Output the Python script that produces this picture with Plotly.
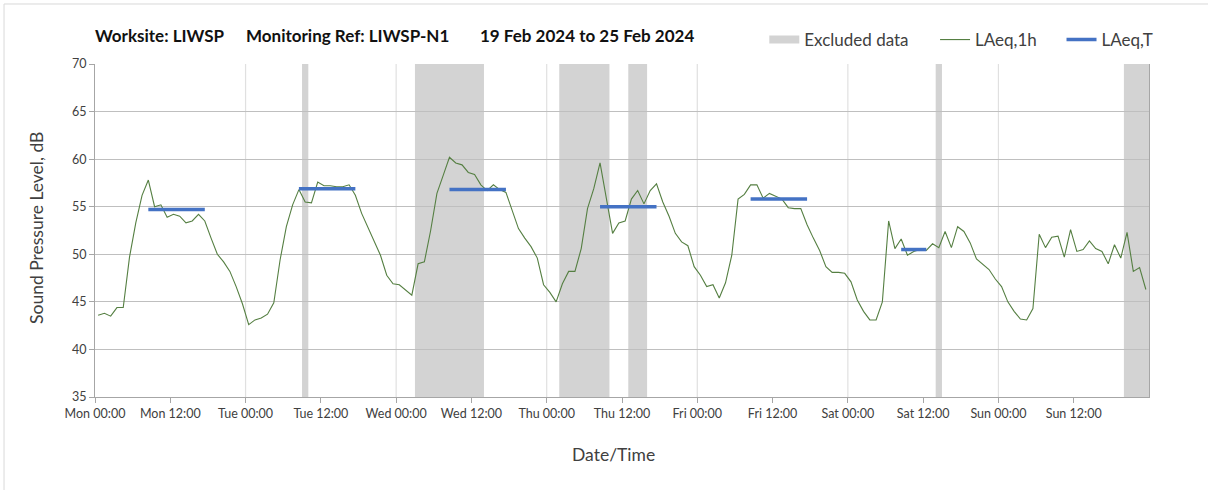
import pandas as pd
import plotly.graph_objects as go

# ---------------- data ----------------
START = "2024-02-19 00:00"
# hourly LAeq,1h values (dB) from Mon 19 Feb 00:00, one per hour (168 values)
laeq_1h = [
    43.6, 43.8, 43.5, 44.4, 44.4, 49.7, 53.3, 56.2, 57.8, 55.0, 55.2, 53.9,   # Mon 00-11
    54.2, 54.0, 53.3, 53.5, 54.2, 53.5, 51.7, 50.0, 49.2, 48.2, 46.6, 44.8,   # Mon 12-23
    42.6, 43.1, 43.3, 43.7, 44.9, 49.4, 52.9, 55.2, 56.8, 55.5, 55.4, 57.6,   # Tue 00-11
    57.2, 57.2, 57.1, 57.1, 57.3, 56.2, 54.3, 52.8, 51.3, 49.9, 47.8, 46.9,   # Tue 12-23
    46.8, 46.2, 45.7, 49.0, 49.2, 52.5, 56.4, 58.3, 60.2, 59.6, 59.4, 58.6,   # Wed 00-11
    58.4, 57.3, 56.7, 57.3, 56.8, 56.5, 54.5, 52.7, 51.7, 50.8, 49.6, 46.8,   # Wed 12-23
    46.0, 45.0, 46.9, 48.2, 48.2, 50.6, 54.8, 56.9, 59.6, 55.7, 52.2, 53.3,   # Thu 00-11
    53.5, 55.8, 56.7, 55.3, 56.7, 57.4, 55.5, 54.0, 52.2, 51.3, 50.9, 48.7,   # Thu 12-23
    47.8, 46.6, 46.8, 45.4, 47.0, 49.9, 55.8, 56.3, 57.3, 57.3, 55.9, 56.4,   # Fri 00-11
    56.1, 55.8, 54.9, 54.8, 54.8, 53.1, 51.7, 50.4, 48.7, 48.1, 48.1, 48.0,   # Fri 12-23
    47.1, 45.2, 44.0, 43.1, 43.1, 45.0, 53.5, 50.6, 51.6, 49.9, 50.3, 50.5,   # Sat 00-11
    50.4, 51.1, 50.7, 52.4, 50.7, 52.9, 52.4, 51.2, 49.5, 48.9, 48.4, 47.4,   # Sat 12-23
    46.6, 45.0, 44.0, 43.2, 43.1, 44.3, 52.1, 50.7, 51.8, 51.9, 49.7, 52.6,   # Sun 00-11
    50.3, 50.5, 51.4, 50.6, 50.3, 49.0, 51.0, 49.6, 52.3, 48.2, 48.6, 46.3,   # Sun 12-23
]
# excluded data periods (start, end)
excluded_start = ["2024-02-20 09:00", "2024-02-21 03:00", "2024-02-22 02:00",
                  "2024-02-22 13:00", "2024-02-24 14:00", "2024-02-25 20:00"]
excluded_end = ["2024-02-20 10:00", "2024-02-21 14:00", "2024-02-22 10:00",
                "2024-02-22 16:00", "2024-02-24 15:00", "2024-02-26 00:00"]
# LAeq,T assessment periods
laeqT_start = ["2024-02-19 08:00", "2024-02-20 08:00", "2024-02-21 08:00",
               "2024-02-22 08:00", "2024-02-23 08:00", "2024-02-24 08:00"]
laeqT_end = ["2024-02-19 18:00", "2024-02-20 18:00", "2024-02-21 18:00",
             "2024-02-22 18:00", "2024-02-23 18:00", "2024-02-24 13:00"]
laeqT_value = [54.7, 56.9, 56.8, 55.0, 55.8, 50.5]

title_parts = ["Worksite: LIWSP", "Monitoring Ref: LIWSP-N1", "19 Feb 2024 to 25 Feb 2024"]
x_title = "Date/Time"
y_title = "Sound Pressure Level, dB"

# ---------------- build ----------------
FONT = "Lato, 'Open Sans', sans-serif"
TXT = "#404040"
FMT = "%Y-%m-%d %H:%M:%S"


def ts(t):
    return pd.Timestamp(t).strftime(FMT)


start = pd.Timestamp(START)
end = start + pd.Timedelta(days=7)
mid = [(start + pd.Timedelta(minutes=30 + 60 * i)).strftime(FMT) for i in range(len(laeq_1h))]

# LAeq,T series: value at each hour mid-point inside a period, gaps elsewhere
laeqT_x, laeqT_y = [], []
for s, e, v in zip(laeqT_start, laeqT_end, laeqT_value):
    hrs = pd.date_range(pd.Timestamp(s), pd.Timestamp(e), freq="h", inclusive="left")
    laeqT_x += [(h + pd.Timedelta(minutes=30)).strftime(FMT) for h in hrs] + [None]
    laeqT_y += [v] * len(hrs) + [None]

fig = go.Figure()

# legend proxy for excluded data (a single point draws no line)
fig.add_trace(go.Scatter(x=[ts(excluded_start[0])], y=[35], mode="lines", name="Excluded data",
                         line=dict(color="#d3d3d3", width=8), legend="legend",
                         hoverinfo="skip", showlegend=True))
fig.add_trace(go.Scatter(x=mid, y=laeq_1h, mode="lines", name="LAeq,1h",
                         line=dict(color="#557f42", width=1.1), legend="legend2"))
fig.add_trace(go.Scatter(x=laeqT_x, y=laeqT_y, mode="lines", name="LAeq,T",
                         line=dict(color="#4472c4", width=3.5), legend="legend3",
                         connectgaps=False))

shapes = []
for s, e in zip(excluded_start, excluded_end):
    shapes.append(dict(type="rect", xref="x", yref="paper", x0=ts(s), x1=ts(e), y0=0, y1=1,
                       fillcolor="#d3d3d3", line=dict(width=0), layer="below"))
for d in range(1, 7):
    t = (start + pd.Timedelta(days=d)).strftime(FMT)
    shapes.append(dict(type="line", xref="x", yref="paper", x0=t, x1=t, y0=0, y1=1,
                       line=dict(color="#e0e0e0", width=1.2), layer="below"))
# outer chart border (top and left)
shapes.append(dict(type="line", xref="paper", yref="paper", x0=-0.0863, x1=1.06,
                   y0=1.1802, y1=1.1802, line=dict(color="#d9d9d9", width=1)))
shapes.append(dict(type="line", xref="paper", yref="paper", x0=-0.0863, x1=-0.0863,
                   y0=-0.28, y1=1.1802, line=dict(color="#d9d9d9", width=1)))

tick_ts = pd.date_range(start, end - pd.Timedelta(hours=12), freq="12h")
tickvals = [t.strftime(FMT) for t in tick_ts]
ticktext = [t.strftime("%a %H:%M") for t in tick_ts]

annotations = []
title_x = [-0.002, 0.1413, 0.3633]
for txt, xp in zip(title_parts, title_x):
    annotations.append(dict(text="<b>" + txt + "</b>", x=xp, y=1.086, xref="paper",
                            yref="paper", xanchor="left", yanchor="middle",
                            showarrow=False, font=dict(family=FONT, size=17, color="#111")))
annotations.append(dict(text=x_title, x=0.4924, y=-0.174, xref="paper", yref="paper",
                        xanchor="center", yanchor="middle", showarrow=False,
                        font=dict(family=FONT, size=17.5, color=TXT)))
annotations.append(dict(text=y_title, x=-0.056, y=0.5075, xref="paper", yref="paper",
                        xanchor="center", yanchor="middle", showarrow=False, textangle=-90,
                        font=dict(family=FONT, size=17.5, color=TXT)))

leg_common = dict(orientation="h", yanchor="middle", y=1.072, xanchor="left",
                  bgcolor="rgba(0,0,0,0)", font=dict(family=FONT, size=17, color=TXT),
                  itemwidth=30, tracegroupgap=0)

fig.update_layout(
    width=1208, height=490,
    margin=dict(l=95, r=59, t=64, b=93),
    paper_bgcolor="white", plot_bgcolor="white",
    font=dict(family=FONT, color=TXT),
    shapes=shapes, annotations=annotations,
    legend=dict(leg_common, x=0.635),
    legend2=dict(leg_common, x=0.797),
    legend3=dict(leg_common, x=0.917),
    xaxis=dict(type="date", range=[start.strftime(FMT), end.strftime(FMT)],
               tickmode="array", tickvals=tickvals, ticktext=ticktext,
               showgrid=False, zeroline=False, showline=True, linecolor="#a6a6a6",
               linewidth=1, ticks="outside", ticklen=5, tickcolor="#a6a6a6",
               tickfont=dict(family=FONT, size=12.5, color=TXT)),
    yaxis=dict(range=[35, 70], dtick=5, tick0=35, showgrid=True, gridcolor="#bfbfbf",
               gridwidth=1, zeroline=False, showline=True, mirror=True, linecolor="#a6a6a6",
               linewidth=1, ticks="outside", ticklen=5, tickcolor="#a6a6a6",
               tickfont=dict(family=FONT, size=12.5, color=TXT)),
)

fig.write_html("out.html", config={"displayModeBar": False},
               post_script="document.body.style.margin='0px';")
